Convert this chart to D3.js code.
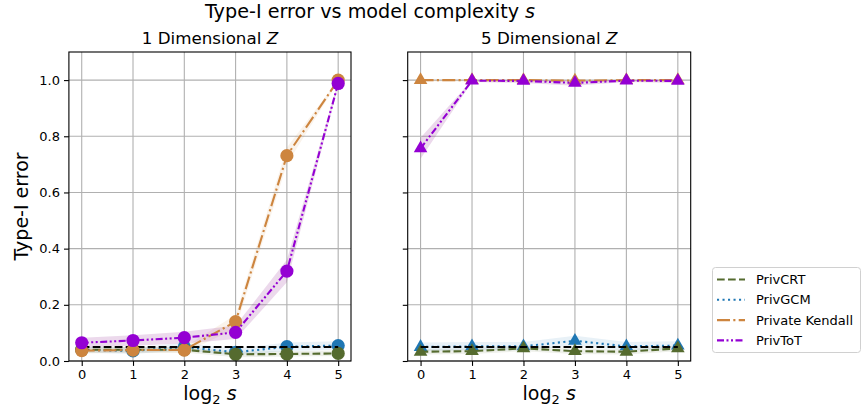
<!DOCTYPE html>
<html><head><meta charset="utf-8">
<script src="https://cdn.jsdelivr.net/npm/d3@7"></script>
<style>body{margin:0;background:#fff}svg{font-family:"DejaVu Sans",sans-serif}</style>
</head><body><svg id="c" width="864" height="415"></svg>
<script>
const xs = [0,1,2,3,4,5];
const yTicks = [0.0,0.2,0.4,0.6,0.8,1.0];
const seriesNames = ["PrivCRT","PrivGCM","Private Kendall","PrivToT"];
const alphaLevel = 0.05;

// 1 Dimensional Z
const crt1 = [0.040,0.040,0.040,0.024,0.025,0.027];
const crt1Lo = [0.030,0.030,0.030,0.013,0.016,0.018];
const crt1Hi = [0.050,0.050,0.050,0.034,0.035,0.037];
const gcm1 = [0.040,0.036,0.050,0.031,0.051,0.055];
const gcm1Lo = [0.030,0.025,0.038,0.020,0.036,0.040];
const gcm1Hi = [0.052,0.048,0.064,0.044,0.066,0.070];
const ken1 = [0.037,0.039,0.039,0.140,0.731,1.000];
const ken1Lo = [0.027,0.029,0.029,0.115,0.700,0.995];
const ken1Hi = [0.047,0.049,0.049,0.165,0.760,1.000];
const tot1 = [0.065,0.073,0.083,0.102,0.320,0.988];
const tot1Lo = [0.047,0.054,0.062,0.078,0.280,0.978];
const tot1Hi = [0.083,0.092,0.104,0.126,0.360,0.996];

// 5 Dimensional Z
const crt5 = [0.033,0.035,0.045,0.035,0.033,0.045];
const crt5Lo = [0.023,0.025,0.035,0.025,0.023,0.035];
const crt5Hi = [0.043,0.045,0.055,0.045,0.043,0.055];
const gcm5 = [0.050,0.052,0.052,0.072,0.052,0.055];
const gcm5Lo = [0.036,0.038,0.038,0.055,0.038,0.041];
const gcm5Hi = [0.066,0.068,0.068,0.090,0.068,0.070];
const ken5 = [1.000,1.000,1.000,0.998,1.000,1.000];
const ken5Lo = [0.995,0.995,0.995,0.992,0.995,0.995];
const ken5Hi = [1.000,1.000,1.000,1.000,1.000,1.000];
const tot5 = [0.757,0.998,0.997,0.990,0.998,0.997];
const tot5Lo = [0.720,0.993,0.990,0.980,0.993,0.990];
const tot5Hi = [0.795,1.000,1.000,0.998,1.000,1.000];

const colors = {"PrivCRT":"#556b2f","PrivGCM":"#1f77b4","Private Kendall":"#cd853f","PrivToT":"#9400d3"};
const bandColors = {"PrivCRT":"#556b2f","PrivGCM":"#1f77b4","Private Kendall":"#cd853f","PrivToT":"#800080"};
const dashes = {"PrivCRT":"7.7,3.3","PrivGCM":"2.1,3.4","Private Kendall":"13,3.3,2.1,3.3","PrivToT":"7,2.5,2,2.5,2,2.5"};

const svg = d3.select("#c");

function panel(left,right,title,data,marker,showY){
  const top=52,bottom=361;
  const x=d3.scaleLinear().domain([-0.25,5.25]).range([left,right]);
  const y=d3.scaleLinear().domain([0,1.1]).range([bottom,top]);
  const g=svg.append("g");
  g.selectAll(".gx").data(xs).enter().append("line")
    .attr("x1",d=>x(d)).attr("x2",d=>x(d)).attr("y1",top).attr("y2",bottom)
    .attr("stroke","#b0b0b0").attr("stroke-width",1.1);
  g.selectAll(".gy").data(yTicks).enter().append("line")
    .attr("y1",d=>y(d)).attr("y2",d=>y(d)).attr("x1",left).attr("x2",right)
    .attr("stroke","#b0b0b0").attr("stroke-width",1.1);
  const clip = "clip"+Math.round(left);
  svg.append("clipPath").attr("id",clip).append("rect").attr("x",left).attr("y",top).attr("width",right-left).attr("height",bottom-top);
  const pg=g.append("g").attr("clip-path",`url(#${clip})`);
  const area=d3.area().x((d,i)=>x(xs[i])).y0(d=>y(d[0])).y1(d=>y(d[1]));
  const line=d3.line().x((d,i)=>x(xs[i])).y(d=>y(d));
  const drawOrder=["PrivGCM","PrivCRT","ref","Private Kendall","PrivToT"];
  ["PrivCRT","PrivGCM","Private Kendall","PrivToT"].forEach(n=>{
    const s=data[n];
    pg.append("path").attr("d",area(s.lo.map((v,i)=>[v,s.hi[i]])))
      .attr("fill",bandColors[n]).attr("fill-opacity",n==="PrivToT"?0.15:0.1).attr("stroke","none");
  });
  drawOrder.forEach(n=>{
    if(n==="ref"){
      pg.append("line").attr("x1",x(0)).attr("x2",x(5)).attr("y1",y(alphaLevel)).attr("y2",y(alphaLevel))
        .attr("stroke","#000").attr("stroke-width",2.1).attr("stroke-dasharray","7.7,3.3");
      return;
    }
    const s=data[n];
    pg.append("path").attr("d",line(s.v)).attr("fill","none").attr("stroke",colors[n])
      .attr("stroke-width",2.1).attr("stroke-dasharray",dashes[n]);
    if(marker==="circle"){
      pg.selectAll(null).data(s.v).enter().append("circle")
        .attr("cx",(d,i)=>x(xs[i])).attr("cy",d=>y(d)).attr("r",6.6).attr("fill",colors[n]);
    } else {
      pg.selectAll(null).data(s.v).enter().append("path")
        .attr("d",d3.symbol().type(d3.symbolTriangle).size(80))
        .attr("transform",(d,i)=>`translate(${x(xs[i])},${y(d)})`).attr("fill",colors[n]);
    }
  });
  g.append("rect").attr("x",left).attr("y",top).attr("width",right-left).attr("height",bottom-top)
    .attr("fill","none").attr("stroke","#000").attr("stroke-width",1.1);
  const xa=g.append("g").attr("transform",`translate(0,${bottom})`)
    .call(d3.axisBottom(x).tickValues(xs).tickFormat(d3.format("d")).tickSize(4.9).tickPadding(4));
  xa.select(".domain").remove();
  xa.selectAll("text").attr("font-size",13).attr("font-family","DejaVu Sans").attr("fill","#000");
  xa.selectAll("line").attr("stroke","#000").attr("stroke-width",1.1);
  const ya=g.append("g").attr("transform",`translate(${left},0)`)
    .call(d3.axisLeft(y).tickValues(yTicks).tickFormat(showY?d3.format(".1f"):"").tickSize(4.9).tickPadding(4));
  ya.select(".domain").remove();
  ya.selectAll("text").attr("font-size",13).attr("font-family","DejaVu Sans").attr("fill","#000");
  ya.selectAll("line").attr("stroke","#000").attr("stroke-width",1.1);
  const t=g.append("text").attr("x",(left+right)/2).attr("y",44).attr("text-anchor","middle").attr("font-size",16.7);
  t.append("tspan").text(title+" ");
  t.append("tspan").attr("font-style","italic").text("Z");
  const xl=g.append("text").attr("x",(left+right)/2).attr("y",400).attr("text-anchor","middle").attr("font-size",19);
  xl.append("tspan").text("log");
  xl.append("tspan").attr("font-size",13).attr("dy",4).text("2");
  xl.append("tspan").attr("dy",-4).attr("font-style","italic").text(" s");
}

panel(68.9,351,"1 Dimensional",{
  "PrivCRT":{v:crt1,lo:crt1Lo,hi:crt1Hi},
  "PrivGCM":{v:gcm1,lo:gcm1Lo,hi:gcm1Hi},
  "Private Kendall":{v:ken1,lo:ken1Lo,hi:ken1Hi},
  "PrivToT":{v:tot1,lo:tot1Lo,hi:tot1Hi}},"circle",true);
panel(407.7,690.7,"5 Dimensional",{
  "PrivCRT":{v:crt5,lo:crt5Lo,hi:crt5Hi},
  "PrivGCM":{v:gcm5,lo:gcm5Lo,hi:gcm5Hi},
  "Private Kendall":{v:ken5,lo:ken5Lo,hi:ken5Hi},
  "PrivToT":{v:tot5,lo:tot5Lo,hi:tot5Hi}},"triangle",false);

svg.append("text").attr("transform","translate(28,206.5) rotate(-90)").attr("text-anchor","middle")
  .attr("font-size",19).text("Type-I error");
const st=svg.append("text").attr("x",370).attr("y",18).attr("text-anchor","middle").attr("font-size",19.2);
st.append("tspan").text("Type-I error vs model complexity ");
st.append("tspan").attr("font-style","italic").text("s");

const lg=svg.append("g");
lg.append("rect").attr("x",712.5).attr("y",267.5).attr("width",148).attr("height",85).attr("rx",3)
  .attr("fill","#fff").attr("stroke","#d0d0d0").attr("stroke-width",1);
seriesNames.forEach((n,i)=>{
  const yy=279.5+i*20.3;
  lg.append("line").attr("x1",717).attr("x2",745).attr("y1",yy).attr("y2",yy)
    .attr("stroke",colors[n]).attr("stroke-width",2.1).attr("stroke-dasharray",dashes[n]);
  lg.append("text").attr("x",756).attr("y",yy+4.6).attr("font-size",13).text(n);
});
</script></body></html>
